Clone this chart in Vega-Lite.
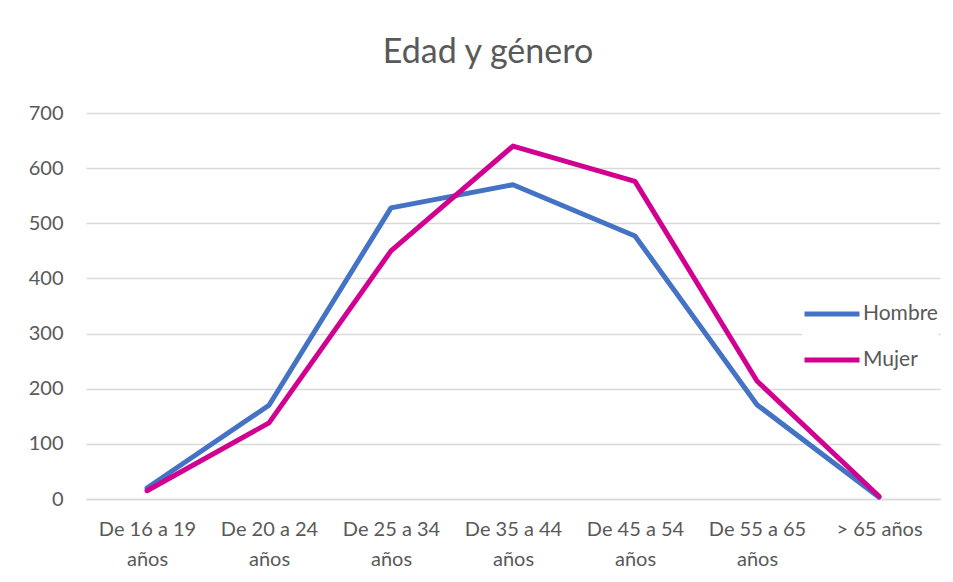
{
  "$schema": "https://vega.github.io/schema/vega-lite/v6.json",
  "width": 854,
  "height": 386,
  "autosize": {"type": "none"},
  "padding": {"left": 86, "top": 113, "right": 13, "bottom": 83},
  "background": "white",
  "title": {"text": "Edad y género", "fontSize": 34, "font": "Lato", "fontWeight": "normal", "color": "#595959", "anchor": "middle", "dx": -25, "offset": 33},
  "config": {"view": {"stroke": null}, "font": "Lato"},
  "data": {"values": [
    {"edad": "De 16 a 19 años", "serie": "Hombre", "valor": 20},
    {"edad": "De 20 a 24 años", "serie": "Hombre", "valor": 170},
    {"edad": "De 25 a 34 años", "serie": "Hombre", "valor": 528},
    {"edad": "De 35 a 44 años", "serie": "Hombre", "valor": 570},
    {"edad": "De 45 a 54 años", "serie": "Hombre", "valor": 477},
    {"edad": "De 55 a 65 años", "serie": "Hombre", "valor": 171},
    {"edad": "> 65 años", "serie": "Hombre", "valor": 3},
    {"edad": "De 16 a 19 años", "serie": "Mujer", "valor": 15},
    {"edad": "De 20 a 24 años", "serie": "Mujer", "valor": 138},
    {"edad": "De 25 a 34 años", "serie": "Mujer", "valor": 450},
    {"edad": "De 35 a 44 años", "serie": "Mujer", "valor": 640},
    {"edad": "De 45 a 54 años", "serie": "Mujer", "valor": 576},
    {"edad": "De 55 a 65 años", "serie": "Mujer", "valor": 214},
    {"edad": "> 65 años", "serie": "Mujer", "valor": 5}
  ]},
  "mark": {"type": "line", "strokeWidth": 5, "strokeCap": "round", "strokeJoin": "round"},
  "encoding": {
    "x": {
      "field": "edad", "type": "nominal", "sort": null,
      "scale": {"padding": 0.5},
      "axis": {
        "title": null, "labelAngle": 0, "labelFontSize": 20, "labelColor": "#595959",
        "domainColor": "#d9d9d9", "domainWidth": 1.5, "ticks": false, "grid": false,
        "labelPadding": 20, "labelLineHeight": 30, "labelLimit": 200,
        "labelExpr": "slice(datum.label, 0, 2) == 'De' ? [slice(datum.label, 0, 10), 'años'] : datum.label"
      }
    },
    "y": {
      "field": "valor", "type": "quantitative",
      "scale": {"domain": [0, 700], "nice": false},
      "axis": {
        "title": null, "values": [0, 100, 200, 300, 400, 500, 600, 700],
        "labelFontSize": 20, "labelColor": "#595959", "domain": false, "ticks": false,
        "gridColor": "#d9d9d9", "gridWidth": 1.5, "labelPadding": 23
      }
    },
    "color": {
      "field": "serie", "type": "nominal",
      "scale": {"domain": ["Hombre", "Mujer"], "range": ["#4472C4", "#D20090"]},
      "legend": {
        "title": null, "orient": "none", "legendX": 716, "legendY": 171,
        "symbolType": "stroke", "symbolSize": 3025, "symbolStrokeWidth": 5,
        "labelFontSize": 21, "labelColor": "#595959", "labelOffset": 1, "rowPadding": 6,
        "fillColor": "white"
      }
    }
  }
}
